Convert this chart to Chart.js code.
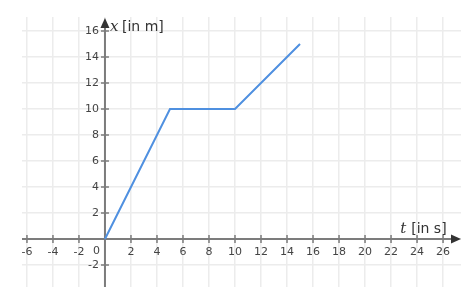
<!DOCTYPE html>
<html>
<head>
<meta charset="utf-8">
<script src="https://cdn.jsdelivr.net/npm/chart.js@4"></script>
<style>
  html, body { margin:0; padding:0; background:#fff; }
  #wrap { width:467px; height:301px; }
</style>
</head>
<body>
<div id="wrap"><canvas id="chart" width="467" height="301"></canvas></div>
<script>
/* Daten: Weg-Zeit-Diagramm */
const tWerte = [0, 5, 10, 15];
const xWerte = [0, 10, 10, 15];
const tTicks = [-6, -4, -2, 0, 2, 4, 6, 8, 10, 12, 14, 16, 18, 20, 22, 24, 26];
const xTicks = [-2, 0, 2, 4, 6, 8, 10, 12, 14, 16];
const tBereich = [-6.38, 27.38];
const xBereich = [-3.69, 17.08];

const AXIS = '#7c7c7c';
const LABEL = '#444';

/* Achsenkreuz mit Pfeilen, Strichen und Beschriftung */
const achsenPlugin = {
  id: 'achsen',
  beforeDatasetsDraw(chart) {
    const { ctx, chartArea: a, scales: { x, y } } = chart;
    const x0 = x.getPixelForValue(0);
    const y0 = y.getPixelForValue(0);
    ctx.save();
    ctx.strokeStyle = AXIS;
    ctx.lineWidth = 2;
    ctx.beginPath();
    ctx.moveTo(a.left, y0); ctx.lineTo(a.right - 6, y0);
    ctx.moveTo(x0, a.bottom); ctx.lineTo(x0, a.top + 6);
    ctx.stroke();

    // Striche
    ctx.lineWidth = 1.5;
    ctx.beginPath();
    tTicks.filter(v => v !== 0).forEach(v => {
      const px = x.getPixelForValue(v);
      ctx.moveTo(px, y0 - 4); ctx.lineTo(px, y0 + 4);
    });
    xTicks.filter(v => v !== 0).forEach(v => {
      const py = y.getPixelForValue(v);
      ctx.moveTo(x0 - 4, py); ctx.lineTo(x0 + 4, py);
    });
    ctx.stroke();

    // Pfeile
    ctx.fillStyle = '#333';
    ctx.beginPath();
    ctx.moveTo(a.right, y0); ctx.lineTo(a.right - 10, y0 - 4.5); ctx.lineTo(a.right - 10, y0 + 4.5);
    ctx.closePath(); ctx.fill();
    ctx.beginPath();
    ctx.moveTo(x0, a.top + 1); ctx.lineTo(x0 - 4.5, a.top + 11); ctx.lineTo(x0 + 4.5, a.top + 11);
    ctx.closePath(); ctx.fill();

    // Zahlen
    ctx.fillStyle = LABEL;
    ctx.font = '11px "DejaVu Sans"';
    ctx.textAlign = 'center';
    ctx.textBaseline = 'middle';
    tTicks.filter(v => v !== 0).forEach(v => {
      ctx.fillText(String(v), x.getPixelForValue(v), y0 + 13);
    });
    ctx.textAlign = 'right';
    xTicks.filter(v => v !== 0).forEach(v => {
      ctx.fillText(String(v), x0 - 6, y.getPixelForValue(v));
    });
    ctx.fillText('0', x0 - 5, y0 + 12);

    // Achsentitel
    ctx.textAlign = 'left';
    ctx.textBaseline = 'alphabetic';
    ctx.fillStyle = '#333';
    ctx.font = 'italic 15px "DejaVu Serif"';
    ctx.fillText('x', x0 + 5, a.top + 14);
    ctx.font = '14px "DejaVu Sans"';
    ctx.fillText('[in m]', x0 + 17, a.top + 14);
    ctx.font = 'italic 15px "DejaVu Serif"';
    ctx.fillText('t', x.getPixelForValue(22.7), y0 - 6);
    ctx.font = '14px "DejaVu Sans"';
    ctx.fillText('[in s]', x.getPixelForValue(23.55), y0 - 6);
    ctx.restore();
  }
};

const gitter = (ticks) => ({
  display: true,
  ticks: { display: false },
  grid: { color: '#ececec', lineWidth: 1.5, drawTicks: false },
  border: { display: false },
  afterBuildTicks: s => { s.ticks = ticks.map(v => ({ value: v })); }
});

new Chart(document.getElementById('chart'), {
  type: 'scatter',
  data: {
    datasets: [{
      data: tWerte.map((t, i) => ({ x: t, y: xWerte[i] })),
      showLine: true,
      borderColor: '#4f90e0',
      borderWidth: 2,
      pointRadius: 0,
      tension: 0,
    }]
  },
  options: {
    responsive: false,
    animation: false,
    layout: { padding: { left: 22, right: 6, top: 17, bottom: 14 } },
    plugins: { legend: { display: false }, tooltip: { enabled: false } },
    scales: {
      x: { type: 'linear', min: tBereich[0], max: tBereich[1], ...gitter(tTicks) },
      y: { type: 'linear', min: xBereich[0], max: xBereich[1], ...gitter(xTicks) },
    },
  },
  plugins: [achsenPlugin],
});
</script>
</body>
</html>
